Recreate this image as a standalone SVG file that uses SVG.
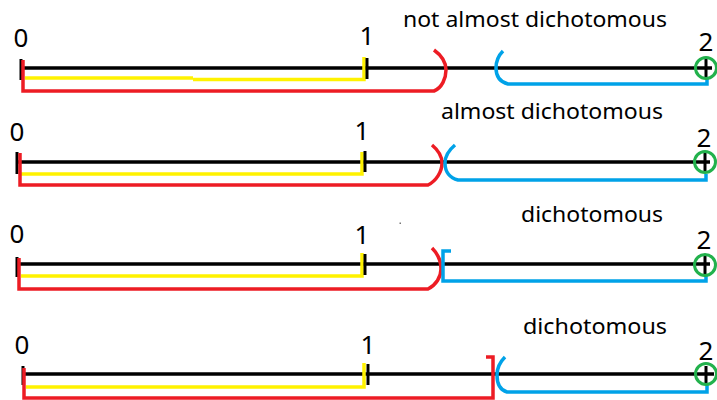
<svg xmlns="http://www.w3.org/2000/svg" width="717" height="400" viewBox="0 0 717 400">
  <style>
    .axis { stroke: #000; stroke-width: 3.5; fill: none; }
    .tick { stroke: #000; stroke-width: 3; fill: none; }
    .yel { stroke: #fff200; stroke-width: 3.5; fill: none; }
    .red { stroke: #ed1c24; stroke-width: 3.5; fill: none; stroke-linejoin: miter; }
    .blue { stroke: #00a2e8; stroke-width: 3.5; fill: none; }
    .ring { stroke: #22b14c; stroke-width: 3; fill: none; }
    .num { font-family: "Noto Sans", "Open Sans", sans-serif; font-size: 26px; fill: #000; text-anchor: middle; }
    .lbl { font-family: "Noto Sans", "Open Sans", sans-serif; font-size: 22px; fill: #000; }
  </style>
  <rect width="717" height="400" fill="#fff"/>

  <!-- Row 1: not almost dichotomous -->
  <g id="row1">
    <text class="lbl" x="403" y="27" textLength="264" lengthAdjust="spacingAndGlyphs">not almost dichotomous</text>
    <text class="num" x="21" y="47">0</text>
    <text class="num" x="367" y="45">1</text>
    <text class="num" x="706" y="51">2</text>
    <line class="axis" x1="22" y1="68" x2="712" y2="68"/>
    <line class="tick" x1="21" y1="59" x2="21" y2="80"/>
    <polyline class="yel" points="25,78 193,78"/>
    <polyline class="yel" points="193,79.5 364,79.5 364,57"/>
    <path class="red" d="M23,60 V91 H434 C442,88 446,78 446,70 C446,62 441,55 434,50"/>
    <line class="tick" x1="367" y1="58" x2="367" y2="79"/>
    <path class="blue" d="M503,51 C498,56 496,62 496,68 C496,76 500,82 508,84 H707 V79"/>
    <line class="tick" x1="706" y1="59" x2="706" y2="78"/>
    <circle class="ring" cx="706" cy="68" r="10.5"/>
  </g>

  <!-- Row 2: almost dichotomous -->
  <g id="row2">
    <text class="lbl" x="441" y="119" textLength="222" lengthAdjust="spacingAndGlyphs">almost dichotomous</text>
    <text class="num" x="17" y="141">0</text>
    <text class="num" x="362" y="140">1</text>
    <text class="num" x="704" y="147">2</text>
    <line class="axis" x1="18" y1="162" x2="710" y2="162"/>
    <line class="tick" x1="17" y1="152" x2="17" y2="174"/>
    <polyline class="yel" points="21,174 362,174 362,152"/>
    <path class="red" d="M20,153 V185 H428 C436,181 442,172 442,163 C442,155 438,150 432,145"/>
    <line class="tick" x1="365" y1="151" x2="365" y2="172"/>
    <path class="blue" d="M455,145 C449,150 445,156 445,163 C445,172 450,178 458,180 H706 V174"/>
    <line class="tick" x1="705" y1="153" x2="705" y2="172"/>
    <circle class="ring" cx="705" cy="162" r="10.5"/>
  </g>

  <!-- Row 3: dichotomous, closed bracket on the right part -->
  <g id="row3">
    <text class="lbl" x="521" y="222" textLength="142" lengthAdjust="spacingAndGlyphs">dichotomous</text>
    <rect x="399.5" y="222.5" width="1.5" height="1.5" fill="#777"/>
    <text class="num" x="17" y="243">0</text>
    <text class="num" x="362" y="244">1</text>
    <text class="num" x="704" y="249">2</text>
    <line class="axis" x1="17" y1="264" x2="710" y2="264"/>
    <line class="tick" x1="17" y1="257" x2="17" y2="277"/>
    <polyline class="yel" points="21,276 362,276 362,253"/>
    <path class="red" d="M19,258 V289 H428 C436,285 441,277 441,269 C441,260 437,253 432,248"/>
    <line class="tick" x1="365" y1="254" x2="365" y2="275"/>
    <path class="blue" d="M451,251 H443 V281 H706 V276"/>
    <line class="tick" x1="705" y1="256" x2="705" y2="274"/>
    <circle class="ring" cx="705" cy="265" r="10.5"/>
  </g>

  <!-- Row 4: dichotomous, closed bracket on the left part -->
  <g id="row4">
    <text class="lbl" x="523" y="334" textLength="144" lengthAdjust="spacingAndGlyphs">dichotomous</text>
    <text class="num" x="22" y="354">0</text>
    <text class="num" x="368" y="354">1</text>
    <text class="num" x="706" y="360">2</text>
    <line class="axis" x1="22" y1="374" x2="714" y2="374"/>
    <line class="tick" x1="23" y1="366" x2="23" y2="385"/>
    <polyline class="yel" points="26,387 364,387 364,363"/>
    <path class="red" d="M24,368 V398 H493 V357 H486"/>
    <line class="tick" x1="368" y1="364" x2="368" y2="385"/>
    <path class="blue" d="M505,357 C500,362 497,368 497,375 C497,384 500,390 507,392 H707 V385"/>
    <line class="tick" x1="706" y1="366" x2="706" y2="384"/>
    <circle class="ring" cx="706" cy="374" r="10.5"/>
  </g>
</svg>
